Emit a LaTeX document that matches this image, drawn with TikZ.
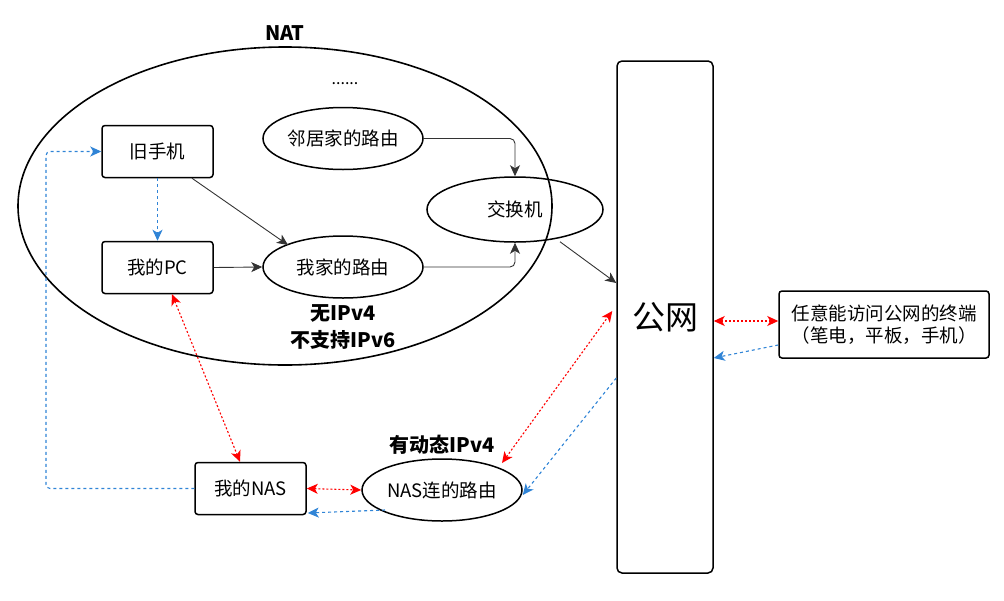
\documentclass[tikz,border=0pt]{standalone}
\usepackage{fontspec}
\setmainfont{Noto Sans CJK SC}
\usetikzlibrary{arrows.meta,shapes.geometric,positioning}

\definecolor{netred}{RGB}{255,0,0}
\definecolor{netblue}{RGB}{48,132,214}

\tikzset{
  box/.style={draw, line width=1.5pt, rounded corners=3pt, minimum width=111pt,
    minimum height=52pt, inner sep=2pt, font=\fontsize{18.5}{22}\selectfont},
  router/.style={draw, line width=1.5pt, ellipse, minimum width=160pt,
    minimum height=62pt, inner sep=0pt, font=\fontsize{18.5}{22}\selectfont},
  lbl/.style={font=\fontsize{20}{27}\selectfont\bfseries, align=center},
  flow/.style={->, draw=black!80, line width=0.9pt},
  redflow/.style={<->, draw=netred, line width=1.1pt, dash pattern=on 2pt off 2pt},
  blueflow/.style={->, draw=netblue, line width=1.1pt, dash pattern=on 3pt off 3pt}
}

\begin{document}
\begin{tikzpicture}[x=1pt,y=-1pt,>={Stealth[length=11pt,width=10pt,inset=3pt]}]
  \useasboundingbox (0,0) rectangle (1004,600);

  \node [ellipse,draw,line width=1.6pt,minimum width=534pt,minimum height=318pt] (nat) at (285,206) {};
  \node [lbl] (natlbl) at (285,33) {NAT};
  \node [font=\fontsize{16}{20}\selectfont] (dots) at (345,84) {......};

  \node [box]    (phone)  at (157.5,151.5) {旧手机};
  \node [box]    (pc)     at (157.5,267.5) {我的PC};
  \node [router] (neigh)  at (343,138.5)   {邻居家的路由};
  \node [router] (home)   at (343,267)     {我家的路由};
  \node [router,minimum width=176pt,minimum height=65pt] (switch) at (515,209.5) {交换机};
  \node [lbl]    (noipv4) at (343,327)     {无IPv4\\不支持IPv6};

  \node [draw,line width=1.5pt,rounded corners=5pt,minimum width=96pt,minimum height=512pt,
         font=\fontsize{33}{36}\selectfont] (net) at (665,317) {公网};
  \node [box,minimum width=210pt,minimum height=67pt,align=center] (term) at (884,324.5)
        {任意能访问公网的终端\\（笔电，平板，手机）};

  \node [box]    (nas)     at (250.5,488.5) {我的NAS};
  \node [router] (nasrtr)  at (442,490)     {NAS连的路由};
  \node [lbl]    (dynlbl)  at (442,445)     {有动态IPv4};

  \coordinate (bend) at (46,151.5);

  % wired paths
  \draw [flow] ([xshift=34.5pt]phone.south) -- ([xshift=-55pt,yshift=22pt]home.center);
  \draw [flow] (pc.east) -- (home.west);
  \draw [flow,rounded corners=5pt] (neigh.east) -| (switch.north);
  \draw [flow,rounded corners=5pt] (home.east) -| (switch.south);
  \draw [flow] ([xshift=45pt,yshift=1pt]switch.south) -- ([yshift=34pt]net.west);

  % reachable both ways
  \draw [redflow] ([xshift=14.5pt]pc.south) -- ([xshift=-10.5pt]nas.north);
  \draw [redflow] (nas.east) -- (nasrtr.west);
  \draw [redflow] ([xshift=60pt,yshift=27pt]nasrtr.center) -- ([xshift=-4pt,yshift=6pt]net.west);
  \draw [redflow] ([yshift=-4pt]net.east) -- ([yshift=3.5pt]term.west);

  % one way
  \draw [blueflow] (phone.south) -- (pc.north);
  \draw [blueflow,rounded corners=4pt] (nas.west) -| (bend) -- (phone.west);
  \draw [blueflow] ([yshift=-20.5pt]term.west) -- ([yshift=-41pt]net.east);
  \draw [blueflow] ([yshift=-61pt]net.west) -- ([yshift=-5pt]nasrtr.east);
  \draw [blueflow] ([xshift=-57pt,yshift=-20pt]nasrtr.center) -- ([xshift=1pt,yshift=-24.5pt]nas.east);
\end{tikzpicture}
\end{document}
